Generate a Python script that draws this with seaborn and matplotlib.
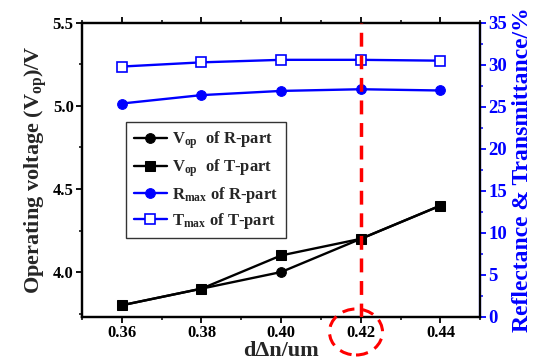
import numpy as np
import pandas as pd
import matplotlib
matplotlib.use("Agg")
import matplotlib.pyplot as plt
import seaborn as sns
from matplotlib.patches import Ellipse
from matplotlib.ticker import MultipleLocator

# data
dn = [0.36, 0.38, 0.40, 0.42, 0.44]
vop_r = [3.80, 3.90, 4.00, 4.20, 4.40]
vop_t = [3.80, 3.90, 4.10, 4.20, 4.40]
rmax_r = [25.4, 26.4, 26.9, 27.1, 26.95]
tmax_t = [29.8, 30.3, 30.6, 30.6, 30.5]

sns.set_style("ticks")
plt.rcParams['font.family'] = ['Liberation Serif', 'DejaVu Serif']
plt.rcParams['font.weight'] = 'bold'
plt.rcParams['mathtext.fontset'] = 'custom'
plt.rcParams['mathtext.rm'] = 'Liberation Serif:bold'
plt.rcParams['mathtext.bf'] = 'Liberation Serif:bold'
plt.rcParams['mathtext.default'] = 'rm'

df = pd.DataFrame({'dn': dn, 'vop_r': vop_r, 'vop_t': vop_t,
                   'rmax_r': rmax_r, 'tmax_t': tmax_t})

fig = plt.figure(figsize=(5.36, 3.63), dpi=100)
ax = fig.add_axes([0.153, 0.127, 0.743, 0.81])
ax2 = ax.twinx()

lw = 1.7
sns.lineplot(data=df, x='dn', y='vop_r', ax=ax, color='black', lw=lw,
             marker='o', markersize=7, markeredgecolor='black',
             label='V$_{op}$  of R-part', legend=False)
sns.lineplot(data=df, x='dn', y='vop_t', ax=ax, color='black', lw=lw,
             marker='s', markersize=6.5, markeredgecolor='black',
             label='V$_{op}$  of T-part', legend=False)
sns.lineplot(data=df, x='dn', y='rmax_r', ax=ax2, color='blue', lw=lw,
             marker='o', markersize=7, markeredgecolor='blue',
             label='R$_{max}$ of R-part', legend=False)
sns.lineplot(data=df, x='dn', y='tmax_t', ax=ax2, color='blue', lw=lw,
             marker='s', markersize=6.5, markerfacecolor='white',
             markeredgecolor='blue', markeredgewidth=1.2,
             label='T$_{max}$ of T-part', legend=False)

# red dashed marker line at 0.42
ax.axvline(0.42, color='red', lw=2.5, ls=(0, (4, 2.5)), zorder=5)

ax.set_xlim(0.35, 0.45)
ax.set_ylim(3.73, 5.5)
ax2.set_ylim(0, 35)

ax.set_xticks([0.36, 0.38, 0.40, 0.42, 0.44])
ax.set_xticklabels(['0.36', '0.38', '0.40', '0.42', '0.44'])
ax.xaxis.set_minor_locator(MultipleLocator(0.01))
ax.set_yticks([4.0, 4.5, 5.0, 5.5])
ax.yaxis.set_minor_locator(MultipleLocator(0.25))
ax2.set_yticks(range(0, 36, 5))
ax2.yaxis.set_minor_locator(MultipleLocator(2.5))

for a in (ax, ax2):
    for s in a.spines.values():
        s.set_linewidth(1.6)
        s.set_color('black')
        s.set_visible(True)
ax2.spines['right'].set_color('blue')

ax.tick_params(axis='both', which='major', labelsize=12, width=1.3, length=4,
               top=True, direction='out', colors='black', pad=2)
ax.tick_params(axis='both', which='minor', width=1.1, length=2.5, top=True,
               colors='black')
ax2.tick_params(axis='y', which='major', labelsize=13.5, width=1.3, length=4,
                colors='blue', pad=2)
ax2.tick_params(axis='y', which='minor', width=1.1, length=2.5, colors='blue')
for lab in ax.get_xticklabels() + ax.get_yticklabels() + ax2.get_yticklabels():
    lab.set_fontweight('bold')

ax.set_xlabel('d\u0394n/um', fontsize=16, fontweight='bold', labelpad=0)
ax.set_ylabel('Operating voltage (V$_{op}$)/V', fontsize=16, fontweight='bold',
              labelpad=3)
ax2.set_ylabel('Reflectance & Transmittance/%', fontsize=17, fontweight='bold',
               color='blue', labelpad=3)

h1, l1 = ax.get_legend_handles_labels()
h2, l2 = ax2.get_legend_handles_labels()
leg = ax.legend(h1 + h2, l1 + l2, loc='upper left', bbox_to_anchor=(0.09, 0.69),
                frameon=True, fancybox=False, edgecolor='black',
                handlelength=2.0, handletextpad=0.3, borderpad=0.45,
                labelspacing=0.35, prop={'weight': 'bold', 'size': 12})
leg.get_frame().set_linewidth(1.0)
ax2.set_zorder(ax.get_zorder() - 1)
ax.patch.set_visible(False)

# dashed circle round the 0.42 label
fig.patches.append(Ellipse((356 / 536, 1 - 332 / 363), 53 / 536, 46 / 363,
                           transform=fig.transFigure, fill=False,
                           edgecolor='red', lw=2.2, ls=(0, (4, 2.5))))

fig.savefig('out.png', dpi=100)
